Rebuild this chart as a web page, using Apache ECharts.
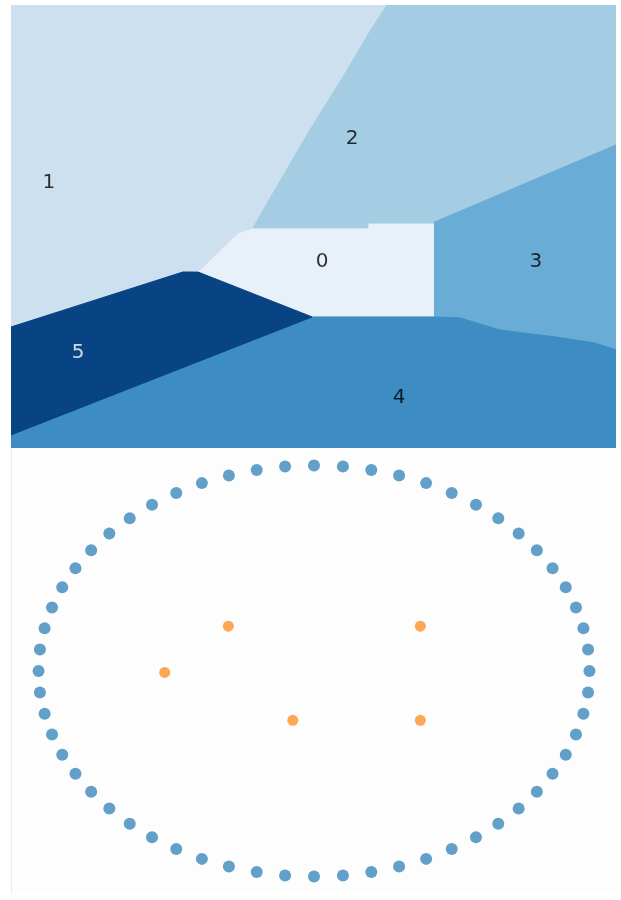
<!DOCTYPE html>
<html>
<head>
<meta charset="utf-8">
<script src="https://cdn.jsdelivr.net/npm/echarts@6/dist/echarts.min.js"></script>
<style>
html, body { margin: 0; padding: 0; background: #fff; }
#container { width: 621px; height: 900px; }
</style>
</head>
<body>
<div id="container"></div>
<script>
// region labels and colours (Blues)
var regionNames = ['0', '1', '2', '3', '4', '5'];
var regionColors = ['#e8f1fa', '#cde0f0', '#a4cce3', '#69acd5', '#3e8cc4', '#084383'];

// region outlines in plot units (-1.1 .. 1.1)
var region0 = [[-0.22, -0.007], [0.198, -0.007], [0.198, 0.017], [0.44, 0.017], [0.44, -0.449],
    [-0.005, -0.449], [-0.42, -0.226], [-0.413, -0.216], [-0.275, -0.032]];
var region1 = [[-1.1, 1.1], [0.267, 1.1], [0.21, 0.98], [0.107, 0.742], [-0.013, 0.479],
    [-0.147, 0.166], [-0.22, -0.007], [-0.275, -0.032], [-0.413, -0.216], [-0.475, -0.226], [-1.1, -0.499]];
var region2 = [[0.267, 1.1], [1.1, 1.1], [1.1, 0.405], [0.44, 0.022], [0.44, 0.017], [0.198, 0.017],
    [0.198, -0.007], [-0.22, -0.007], [-0.147, 0.166], [-0.013, 0.479], [0.107, 0.742], [0.21, 0.98]];
var region3 = [[0.44, 0.022], [1.1, 0.405], [1.1, -0.613], [1.024, -0.579], [0.882, -0.549],
    [0.678, -0.514], [0.533, -0.454], [0.44, -0.449]];
var region4 = [[-1.1, -1.1], [1.1, -1.1], [1.1, -0.613], [1.024, -0.579], [0.882, -0.549], [0.678, -0.514],
    [0.533, -0.454], [0.44, -0.449], [-0.005, -0.449], [-1.1, -1.035]];
var region5 = [[-1.1, -0.499], [-0.475, -0.226], [-0.42, -0.226], [-0.005, -0.449], [-1.1, -1.035]];
var regionShapes = [region0, region1, region2, region3, region4, region5];

// where the region numbers sit
var labelX = [0.031, -0.962, 0.14, 0.809, 0.311, -0.856];
var labelY = [-0.176, 0.216, 0.435, -0.176, -0.852, -0.628];

// outer ring points (bottom panel)
var ringX = [1, 0.995, 0.978, 0.951, 0.914, 0.866, 0.809, 0.743, 0.669, 0.588, 0.5, 0.407, 0.309, 0.208, 0.105,
    0, -0.105, -0.208, -0.309, -0.407, -0.5, -0.588, -0.669, -0.743, -0.809, -0.866, -0.914, -0.951, -0.978, -0.995,
    -1, -0.995, -0.978, -0.951, -0.914, -0.866, -0.809, -0.743, -0.669, -0.588, -0.5, -0.407, -0.309, -0.208, -0.105,
    0, 0.105, 0.208, 0.309, 0.407, 0.5, 0.588, 0.669, 0.743, 0.809, 0.866, 0.914, 0.951, 0.978, 0.995];
var ringY = [0, 0.105, 0.208, 0.309, 0.407, 0.5, 0.588, 0.669, 0.743, 0.809, 0.866, 0.914, 0.951, 0.978, 0.995,
    1, 0.995, 0.978, 0.951, 0.914, 0.866, 0.809, 0.743, 0.669, 0.588, 0.5, 0.407, 0.309, 0.208, 0.105,
    0, -0.105, -0.208, -0.309, -0.407, -0.5, -0.588, -0.669, -0.743, -0.809, -0.866, -0.914, -0.951, -0.978, -0.995,
    -1, -0.995, -0.978, -0.951, -0.914, -0.866, -0.809, -0.743, -0.669, -0.588, -0.5, -0.407, -0.309, -0.208, -0.105];

// inner (orange) points
var innerX = [-0.311, 0.386, -0.542, -0.077, 0.386];
var innerY = [0.218, 0.218, -0.007, -0.240, -0.240];

var dom = document.getElementById("container");
var myChart = echarts.init(dom);

var regionData = regionNames.map(function (name, i) {
    return { name: name, value: [labelX[i], labelY[i]] };
});
var labelData = regionNames.map(function (name, i) {
    return {
        name: name,
        value: [labelX[i], labelY[i]],
        label: { color: i === 5 ? '#ffffff' : '#000000' }
    };
});
var ringData = ringX.map(function (x, i) { return [x, ringY[i]]; });
var innerData = innerX.map(function (x, i) { return [x, innerY[i]]; });

function hiddenAxis(idx, min, max) {
    return {
        type: 'value', gridIndex: idx, min: min, max: max,
        axisLine: { show: false }, axisTick: { show: false },
        axisLabel: { show: false }, splitLine: { show: false }
    };
}

var option = {
    animation: false,
    backgroundColor: '#ffffff',
    grid: [
        { left: 11, top: 5, width: 605, height: 443 },
        { left: 11, top: 449, width: 606, height: 444, show: true, backgroundColor: '#fdfdfd', borderWidth: 0 }
    ],
    xAxis: [
        hiddenAxis(0, -1.1, 1.1),
        hiddenAxis(1, -1.1, 1.1)
    ],
    yAxis: [
        hiddenAxis(0, -1.1, 1.1),
        {
            type: 'value', gridIndex: 1, min: -1.08, max: 1.08,
            axisLine: { show: true, onZero: false, lineStyle: { color: '#ececec', width: 1 } },
            axisTick: { show: false }, axisLabel: { show: false }, splitLine: { show: false }
        }
    ],
    series: [
        {
            type: 'custom',
            xAxisIndex: 0,
            yAxisIndex: 0,
            clip: true,
            data: regionData,
            renderItem: function (params, api) {
                var poly = regionShapes[params.dataIndex];
                var points = poly.map(function (p) { return api.coord(p); });
                var c = regionColors[params.dataIndex];
                return {
                    type: 'polygon',
                    shape: { points: points },
                    style: { fill: c, stroke: c, lineWidth: 1 }
                };
            }
        },
        {
            type: 'scatter',
            xAxisIndex: 0,
            yAxisIndex: 0,
            symbolSize: 1,
            itemStyle: { color: 'transparent' },
            data: labelData,
            label: {
                show: true,
                position: 'inside',
                fontFamily: 'DejaVu Sans',
                fontSize: 20,
                formatter: function (p) { return p.name; }
            },
            z: 5
        },
        {
            type: 'scatter',
            xAxisIndex: 1,
            yAxisIndex: 1,
            symbolSize: 12,
            itemStyle: { color: '#1f77b4', opacity: 0.7 },
            data: ringData
        },
        {
            type: 'scatter',
            xAxisIndex: 1,
            yAxisIndex: 1,
            symbolSize: 11,
            itemStyle: { color: '#ff7f0e', opacity: 0.7 },
            data: innerData
        }
    ]
};

if (option && typeof option === "object") {
    myChart.setOption(option, true);
}
</script>
</body>
</html>
